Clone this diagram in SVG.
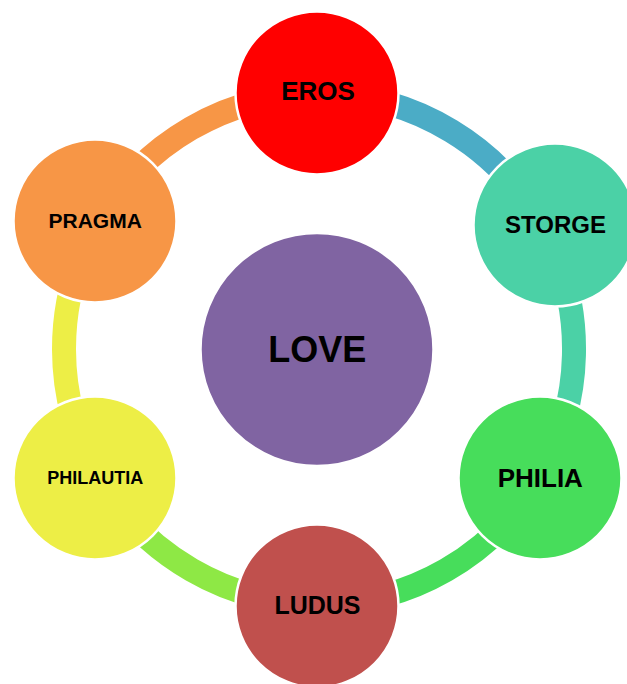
<svg xmlns="http://www.w3.org/2000/svg" width="627" height="684" viewBox="0 0 627 684">
<style>
.arc{fill:none;stroke-width:24;stroke-linecap:butt}
.node{stroke:#ffffff;stroke-width:2.5}
.lbl{font-family:"Liberation Sans",Arial,sans-serif;font-weight:bold;fill:#000000;text-anchor:middle}
</style>
<rect width="627" height="684" fill="#ffffff"/>
<g id="connectors">
<path class="arc" stroke="#4BACC6" d="M319,94 A255,255 0 0 1 545.2,231.3"/>
<path class="arc" stroke="#4BD1A6" d="M545.2,231.3 A255,255 0 0 1 539.2,477.7"/>
<path class="arc" stroke="#47DD5B" d="M539.2,477.7 A255,255 0 0 1 319,604"/>
<path class="arc" stroke="#8EE845" d="M319,604 A255,255 0 0 1 98.2,476.5"/>
<path class="arc" stroke="#EDEE46" d="M98.2,476.5 A255,255 0 0 1 97.5,222.6"/>
<path class="arc" stroke="#F79646" d="M97.5,222.6 A255,255 0 0 1 319,94"/>
</g>
<g id="love">
<circle class="node" cx="317" cy="349.5" r="116.5" fill="#8064A2"/>
<text class="lbl" x="317.3" y="361.7" font-size="36">LOVE</text>
</g>
<g id="eros">
<circle class="node" cx="317" cy="93" r="81.5" fill="#FF0000"/>
<text class="lbl" x="318" y="100" font-size="26">EROS</text>
</g>
<g id="storge">
<circle class="node" cx="555" cy="225" r="81.5" fill="#4BD1A6"/>
<text class="lbl" x="555.5" y="233.3" font-size="24">STORGE</text>
</g>
<g id="philia">
<circle class="node" cx="540" cy="478" r="81.5" fill="#47DD5B"/>
<text class="lbl" x="540.3" y="486.7" font-size="26">PHILIA</text>
</g>
<g id="ludus">
<circle class="node" cx="317" cy="606" r="81.5" fill="#C0504D"/>
<text class="lbl" x="317.5" y="614" font-size="25">LUDUS</text>
</g>
<g id="philautia">
<circle class="node" cx="95" cy="478" r="81.5" fill="#EDEE46"/>
<text class="lbl" x="95.3" y="484" font-size="18">PHILAUTIA</text>
</g>
<g id="pragma">
<circle class="node" cx="95" cy="221" r="81.5" fill="#F79646"/>
<text class="lbl" x="95.2" y="228.3" font-size="21">PRAGMA</text>
</g>
</svg>
